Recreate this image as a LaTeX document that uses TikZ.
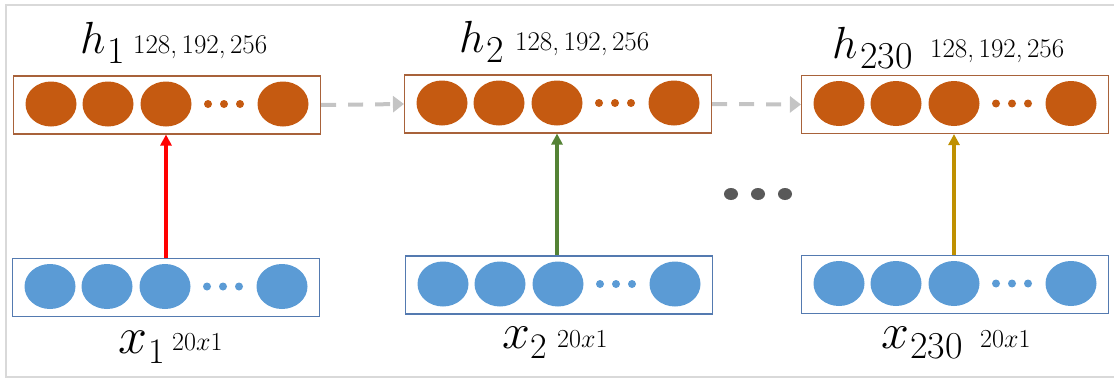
\RequirePackage{fix-cm}
\documentclass[tikz,border=0pt]{standalone}
\usetikzlibrary{arrows.meta,shapes.geometric}
\definecolor{orfill}{RGB}{197,90,17}
\definecolor{orline}{RGB}{168,98,58}
\definecolor{blfill}{RGB}{91,155,213}
\definecolor{blline}{RGB}{84,122,176}
\definecolor{arred}{RGB}{255,0,0}
\definecolor{argreen}{RGB}{84,130,53}
\definecolor{argold}{RGB}{191,144,0}
\definecolor{dashgray}{RGB}{196,196,196}
\definecolor{dotgray}{RGB}{89,89,89}
\definecolor{framegray}{RGB}{217,217,217}
\tikzset{
  hbox/.style={draw=orline, line width=1.1pt, rectangle, inner sep=0, minimum width=307, minimum height=58},
  xbox/.style={draw=blline, line width=1.1pt, rectangle, inner sep=0, minimum width=307, minimum height=58},
  bigc/.style={ellipse, inner sep=0, minimum width=51, minimum height=45},
  smalldot/.style={circle, inner sep=0, minimum size=8},
  lbl/.style={inner sep=0, anchor=base west},
  uparrow/.style={line width=3.2pt, -{Triangle[length=11, width=11]}},
  recur/.style={draw=dashgray, line width=4pt, dash pattern=on 15 off 12, -{Triangle[length=11, width=16]}},
}
\begin{document}
\begin{tikzpicture}[x=1pt, y=-1pt]
\useasboundingbox (0,0) rectangle (1114,380);
\draw[framegray, line width=2pt] (6,5) rectangle (1125,377);
% layers: name, left x, box center y
\foreach \n/\lx/\cy/\fc/\sty in {h1/14/105/orfill/hbox, h2/405/104/orfill/hbox, h3/802/104.5/orfill/hbox, x1/13/287.5/blfill/xbox, x2/406/285/blfill/xbox, x3/802/284.5/blfill/xbox}{
  \node[\sty] (\n) at (\lx+153,\cy) {};
  \foreach \i/\dx in {1/37, 2/94, 3/152, 4/269}{
    \node[bigc, fill=\fc] (\n c\i) at (\lx+\dx,\cy-1) {};
  }
  \foreach \i/\dx in {1/194, 2/210, 3/226}{
    \node[smalldot, fill=\fc] (\n d\i) at (\lx+\dx,\cy-1) {};
  }
}
% vertical arrows
\draw[uparrow, arred] (x1.north -| h1c3) -- (h1.south -| h1c3);
\draw[uparrow, argreen] (x2.north -| h2c3) -- (h2.south -| h2c3);
\draw[uparrow, argold] (x3.north -| h3c3) -- (h3.south -| h3c3);
% recurrent dashed arrows
\draw[recur] (h1.east) -- (h2.west);
\draw[recur] (h2.east) -- (h3.west);
% ellipsis
\foreach \i/\x in {1/731, 2/758, 3/785}{
  \node[ellipse, fill=dotgray, inner sep=0, minimum width=14, minimum height=12] (bd\i) at (\x,194) {};
}
% labels h
\node[lbl] (h1l) at (80,53) {\fontsize{45}{50}\selectfont$h$};
\node[lbl] (h1s) at (107,63) {\fontsize{38}{40}\selectfont 1};
\node[lbl] (h1t) at (133,53) {\fontsize{27}{30}\selectfont 128,\,192,\,256};
\node[lbl] (h2l) at (459,52) {\fontsize{45}{50}\selectfont$h$};
\node[lbl] (h2s) at (486,62) {\fontsize{38}{40}\selectfont 2};
\node[lbl] (h2t) at (515,50) {\fontsize{27}{30}\selectfont 128,\,192,\,256};
\node[lbl] (h3l) at (832,58) {\fontsize{45}{50}\selectfont$h$};
\node[lbl] (h3s) at (860,68) {\fontsize{38}{40}\selectfont 230};
\node[lbl] (h3t) at (930,57) {\fontsize{27}{30}\selectfont 128,\,192,\,256};
% labels x
\node[lbl] (x1l) at (118,353) {\fontsize{52}{56}\selectfont$x$};
\node[lbl] (x1s) at (148,363) {\fontsize{36}{40}\selectfont 1};
\node[lbl] (x1t) at (172,350) {\fontsize{26}{30}\selectfont 20$x$1};
\node[lbl] (x2l) at (502,348) {\fontsize{50}{56}\selectfont$x$};
\node[lbl] (x2s) at (530,358) {\fontsize{36}{40}\selectfont 2};
\node[lbl] (x2t) at (557,347) {\fontsize{26}{30}\selectfont 20$x$1};
\node[lbl] (x3l) at (881,348) {\fontsize{50}{56}\selectfont$x$};
\node[lbl] (x3s) at (910,358) {\fontsize{38}{40}\selectfont 230};
\node[lbl] (x3t) at (980,347) {\fontsize{26}{30}\selectfont 20$x$1};
\end{tikzpicture}
\end{document}
